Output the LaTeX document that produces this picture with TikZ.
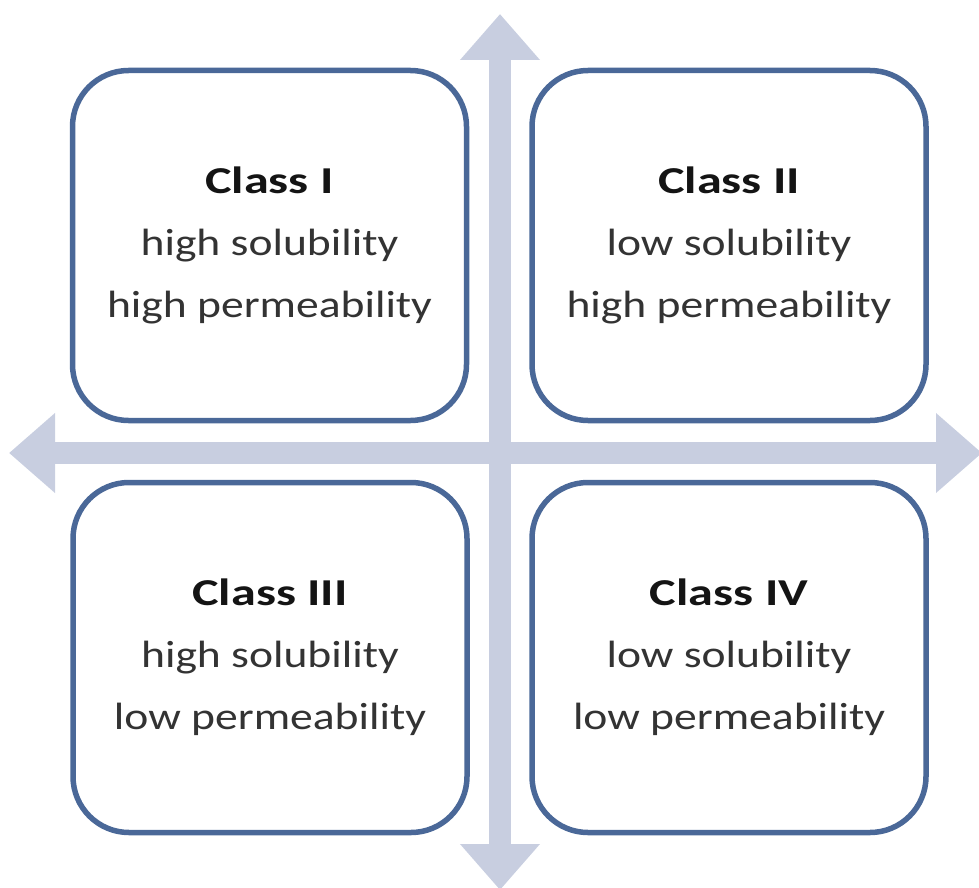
\documentclass[tikz,border=0pt]{standalone}
\usepackage{fontspec}
\setmainfont{Carlito}[FakeStretch=1.2, BoldFeatures={FakeStretch=1.32}]
\usetikzlibrary{arrows.meta}
\definecolor{boxblue}{HTML}{4A6898}
\definecolor{axisgray}{HTML}{C8CEE0}
\tikzset{
  classbox/.style={draw=boxblue, line width=5.5pt, rounded corners=56pt, fill=white,
    minimum width=394pt, minimum height=350pt, align=center, inner sep=0pt,
    text=black!80, font=\fontsize{38}{62}\selectfont},
  axis/.style={draw=axisgray, line width=22pt,
    -{Triangle[length=46pt,width=77pt]}}
}
\newcommand{\classtitle}[1]{{\bfseries\color{black!92}#1}}
\begin{document}
\begin{tikzpicture}[x=1pt,y=-1pt]
  \useasboundingbox (0,0) rectangle (979,888);
  % axes
  \coordinate (axmid) at (500,453);
  \coordinate (top) at (500,14);
  \coordinate (bottom) at (500,890);
  \coordinate (left) at (9,453);
  \coordinate (right) at (982,453);
  \draw[axis] (axmid) -- (top);
  \draw[axis] (axmid) -- (bottom);
  \draw[axis] (axmid) -- (left);
  \draw[axis] (axmid) -- (right);
  % quadrants
  \node[classbox] (c1) at (269.5,245.5) {\classtitle{Class I}\\high solubility\\high permeability};
  \node[classbox] (c2) at (729,245.5) {\classtitle{Class II}\\low solubility\\high permeability};
  \node[classbox] (c3) at (270,657.5) {\classtitle{Class III}\\high solubility\\low permeability};
  \node[classbox] (c4) at (729,657.5) {\classtitle{Class IV}\\low solubility\\low permeability};
\end{tikzpicture}
\end{document}
